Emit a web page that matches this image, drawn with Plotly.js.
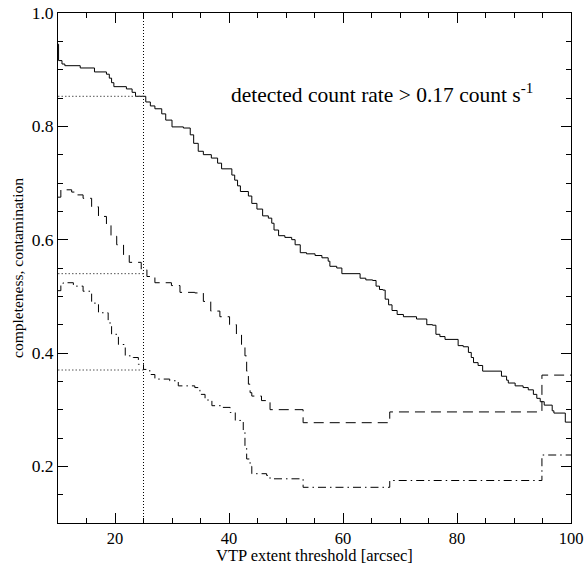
<!DOCTYPE html>
<html>
<head>
<meta charset="utf-8">
<script src="https://cdn.plot.ly/plotly-3.0.1.min.js"></script>
<style>html,body{margin:0;padding:0;background:#fff;}#chart{width:585px;height:565px;}</style>
</head>
<body>
<div id="chart"></div>
<script>
// completeness (solid)
const completenessX = [10,10.1,10.7,11.2,13.9,16.4,18.5,19.0,19.4,19.8,22.0,23.0,23.6,25.4,26.2,27.0,28.2,28.9,30.0,32.0,33.2,33.8,34.6,35.5,36.9,38.0,38.7,40.5,41.0,41.5,42.0,43.4,44.0,44.9,45.9,46.9,47.5,47.9,48.7,49.8,51.0,51.6,52.5,53.6,55.1,56.3,57.4,57.7,58.9,59.8,63.0,64.0,65.2,65.8,66.4,67.0,67.4,68.0,68.6,69.5,70.6,72.9,74.7,75.7,76.3,77.0,77.9,80.2,81.1,82.0,82.5,82.9,83.7,84.5,87.8,88.7,89.0,90.2,91.6,92.5,93.4,94.0,94.6,95.3,96.7,97.0,99.0,100];
const completenessY = [0.945,0.916,0.910,0.907,0.903,0.896,0.892,0.885,0.877,0.870,0.866,0.860,0.853,0.843,0.836,0.831,0.822,0.811,0.799,0.797,0.785,0.770,0.756,0.750,0.744,0.735,0.725,0.714,0.705,0.695,0.685,0.677,0.664,0.654,0.642,0.638,0.629,0.617,0.607,0.604,0.600,0.591,0.577,0.575,0.572,0.568,0.562,0.553,0.550,0.540,0.532,0.529,0.528,0.518,0.512,0.511,0.495,0.485,0.475,0.468,0.464,0.460,0.450,0.449,0.433,0.429,0.424,0.413,0.411,0.401,0.392,0.383,0.378,0.368,0.359,0.352,0.347,0.342,0.339,0.335,0.327,0.320,0.314,0.308,0.298,0.294,0.278,0.278];

// contamination (dashed)
const dashedX = [10,10.5,12.4,13.3,14.4,15.9,17.1,18.5,19.3,20.3,21.5,22.5,24.6,25.6,27.0,29.9,31.4,34.0,35.5,36.8,38.4,40.1,41.3,42.2,42.8,43.1,43.4,43.7,44.0,45.7,47.2,53.0,68.2,94.9,100];
const dashedY = [0.675,0.688,0.684,0.679,0.673,0.658,0.641,0.626,0.606,0.591,0.573,0.560,0.547,0.535,0.524,0.519,0.507,0.506,0.491,0.474,0.464,0.450,0.433,0.415,0.395,0.368,0.345,0.330,0.324,0.316,0.300,0.277,0.296,0.361,0.361];

// contamination (dash-dot)
const dashdotX = [10,10.5,10.9,12.7,14.4,15.9,17.1,18.8,19.4,20.6,21.8,23.2,24.1,25.0,26.1,27.0,29.6,31.1,34.0,34.9,35.8,37.0,38.7,40.2,41.1,42.5,42.8,43.1,43.7,44.0,46.6,47.2,53.0,68.2,94.9,100];
const dashdotY = [0.510,0.520,0.524,0.518,0.509,0.488,0.471,0.453,0.433,0.415,0.395,0.392,0.380,0.371,0.362,0.354,0.351,0.342,0.339,0.327,0.317,0.307,0.304,0.295,0.281,0.262,0.236,0.213,0.200,0.187,0.184,0.178,0.163,0.175,0.220,0.220];

// reference markers
const thresholdX = 25;
const thresholdLevels = [0.853, 0.540, 0.370];
const xRange = [10, 100];
const yRange = [0.1, 1.0];

// texts
const xTitle = 'VTP extent threshold [arcsec]';
const yTitle = 'completeness, contamination';
const noteText = 'detected count rate &gt; 0.17 count s<sup>-1</sup>';

const serif = "Liberation Serif, Times New Roman, serif";

const traces = [
  {x: completenessX, y: completenessY, mode: 'lines', line: {color: '#000', width: 1, shape: 'hv'}, hoverinfo: 'skip'},
  {x: dashedX, y: dashedY, mode: 'lines', line: {color: '#000', width: 1, shape: 'hv', dash: '10px,6px'}, hoverinfo: 'skip'},
  {x: dashdotX, y: dashdotY, mode: 'lines', line: {color: '#000', width: 1, shape: 'hv', dash: '8px,4px,1.5px,4px'}, hoverinfo: 'skip'},
  {x: [thresholdX, thresholdX], y: yRange, mode: 'lines', line: {color: '#000', width: 1, dash: '1px,2px'}, hoverinfo: 'skip'}
];
thresholdLevels.forEach(function (lv) {
  traces.push({x: [xRange[0], thresholdX], y: [lv, lv], mode: 'lines', line: {color: '#555', width: 1, dash: '1.5px,2px'}, hoverinfo: 'skip'});
});

const layout = {
  width: 585, height: 565,
  margin: {l: 58, r: 14, t: 13, b: 42},
  showlegend: false,
  paper_bgcolor: '#fff', plot_bgcolor: '#fff',
  font: {family: serif, size: 17, color: '#000'},
  xaxis: {
    range: xRange, showgrid: false, zeroline: false,
    showline: true, linecolor: '#000', linewidth: 1, mirror: 'ticks',
    ticks: 'inside', ticklen: 10, tickcolor: '#000', tickwidth: 1,
    tick0: 0, dtick: 20,
    minor: {dtick: 5, ticks: 'inside', ticklen: 5, tickcolor: '#000', tickwidth: 1, showgrid: false},
    tickfont: {family: serif, size: 16.5}
  },
  yaxis: {
    range: yRange, showgrid: false, zeroline: false,
    showline: true, linecolor: '#000', linewidth: 1, mirror: 'ticks',
    ticks: 'inside', ticklen: 10, tickcolor: '#000', tickwidth: 1,
    tick0: 0, dtick: 0.2, tickformat: '.1f',
    minor: {dtick: 0.05, ticks: 'inside', ticklen: 5, tickcolor: '#000', tickwidth: 1, showgrid: false},
    tickfont: {family: serif, size: 17.5},
    title: {text: yTitle, font: {family: serif, size: 15.5}, standoff: 4}
  },
  annotations: [
    {
      x: 40, y: 0.858, xref: 'x', yref: 'y', xanchor: 'left', yanchor: 'middle',
      showarrow: false, text: noteText,
      font: {family: serif, size: 21.5, color: '#000'}
    },
    {
      x: 0.5, y: 0, xref: 'paper', yref: 'paper', xanchor: 'center', yanchor: 'top',
      yshift: -22, showarrow: false, text: xTitle, borderpad: 0,
      font: {family: serif, size: 16.5, color: '#000'}
    }
  ]
};

Plotly.newPlot('chart', traces, layout, {staticPlot: true, displayModeBar: false});
</script>
</body>
</html>
